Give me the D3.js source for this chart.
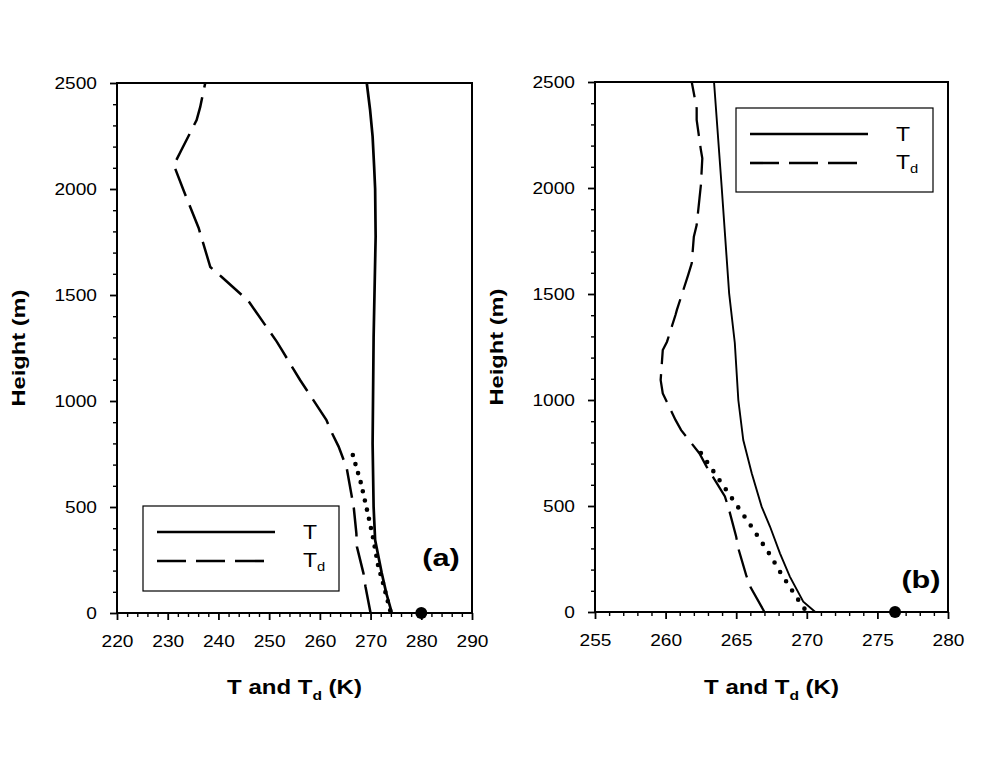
<!DOCTYPE html>
<html><head><meta charset="utf-8">
<script src="https://cdn.jsdelivr.net/npm/d3@7"></script>
<style>body{margin:0;background:#fff}svg{display:block}</style>
</head><body>
<svg id="chart" width="992" height="760"></svg>
<script>
// ---------------- data ----------------
// Panel (a)
const aT_height  = [0, 94, 189, 344, 500, 800, 1300, 1776, 2000, 2107, 2248, 2374, 2500];
const aT_value   = [274.2, 273.1, 272.2, 270.9, 270.6, 270.4, 270.6, 271.0, 270.9, 270.7, 270.4, 269.9, 269.25];
const aTd_height = [0, 124, 187, 313, 376, 494, 549, 683, 785, 863, 910, 1052, 1099, 1241, 1280, 1414, 1472, 1586, 1632, 1816, 1995, 2113, 2184, 2325, 2386, 2500];
const aTd_value  = [270.0, 269.0, 268.6, 267.3, 267.2, 266.7, 266.3, 265.3, 263.7, 262.1, 261.3, 257.4, 256.1, 252.5, 251.5, 247.6, 245.9, 240.6, 238.4, 236.1, 233.1, 231.2, 232.7, 235.7, 236.4, 237.4];
const aDot_height = [0, 137, 222, 354, 486, 613, 745];
const aDot_value  = [274.0, 272.5, 271.5, 270.5, 269.3, 268.1, 266.5];
const aSurface = [280, 0];
const aXDomain = [220, 290];
const aXTicks = [220, 230, 240, 250, 260, 270, 280, 290];

// Panel (b)
const bT_height  = [0, 49, 167, 277, 402, 497, 654, 811, 1000, 1270, 1503, 2006, 2500];
const bT_value   = [270.6, 269.75, 268.8, 268.1, 267.4, 266.8, 266.1, 265.5, 265.15, 264.9, 264.5, 263.97, 263.43];
const bTd_height = [0, 119, 175, 300, 355, 481, 545, 686, 748, 858, 906, 1031, 1094, 1236, 1275, 1401, 1425, 1590, 1645, 1770, 1825, 1951, 2014, 2140, 2179, 2321, 2376, 2500];
const bTd_value  = [267.0, 266.0, 265.7, 265.15, 265.0, 264.5, 264.2, 262.9, 262.4, 261.1, 260.7, 259.8, 259.65, 259.8, 260.1, 260.7, 260.8, 261.6, 261.85, 262.0, 262.2, 262.4, 262.5, 262.6, 262.5, 262.2, 262.2, 261.85];
const bDot_height = [0, 47, 179, 269, 401, 575, 750];
const bDot_value  = [270.0, 269.5, 268.2, 267.4, 266.1, 264.3, 262.5];
const bSurface = [276.25, 0];
const bXDomain = [255, 280];
const bXTicks = [255, 260, 265, 270, 275, 280];

const yDomain = [0, 2500];
const yTicks = [0, 500, 1000, 1500, 2000, 2500];
const legendLabels = ["T", "T"];
const legendSub = "d";

// ---------------- drawing ----------------
const FONT = "'Liberation Sans', Arial, Helvetica, sans-serif";
const svg = d3.select("#chart");
svg.append("rect").attr("width", 992).attr("height", 760).attr("fill", "#fff");

const zip = (h, v) => h.map((d, i) => [d, v[i]]);

const panels = [
  { left: 117, right: 472, top: 83, bottom: 613, xDomain: aXDomain, xTicks: aXTicks, xMinorStep: 2,
    T: zip(aT_height, aT_value), Td: zip(aTd_height, aTd_value), dots: zip(aDot_height, aDot_value),
    surf: aSurface, tW: 2.7, tdW: 2.5, dotGap: 9.4,
    label: "(a)", labelX: 441, labelY: 566,
    legend: { x: 143, y: 506, w: 196, h: 85 } },
  { left: 595, right: 948, top: 82, bottom: 612, xDomain: bXDomain, xTicks: bXTicks, xMinorStep: 1,
    T: zip(bT_height, bT_value), Td: zip(bTd_height, bTd_value), dots: zip(bDot_height, bDot_value),
    surf: bSurface, tW: 1.9, tdW: 2.3, dotGap: 11,
    label: "(b)", labelX: 921, labelY: 588,
    legend: { x: 736, y: 108, w: 197, h: 84 } }
];

panels.forEach(p => {
  const g = svg.append("g");
  const x = d3.scaleLinear().domain(p.xDomain).range([p.left, p.right]);
  const y = d3.scaleLinear().domain(yDomain).range([p.bottom, p.top]);

  // minor ticks
  const xMinor = d3.range(p.xDomain[0], p.xDomain[1] + 1e-9, p.xMinorStep).filter(v => !p.xTicks.includes(v));
  const yMinor = d3.range(0, 2501, 100).filter(v => !yTicks.includes(v));
  const mx = g.append("g").attr("transform", `translate(0,${p.bottom})`)
    .call(d3.axisBottom(x).tickValues(xMinor).tickSize(4).tickFormat(""));
  const my = g.append("g").attr("transform", `translate(${p.left},0)`)
    .call(d3.axisLeft(y).tickValues(yMinor).tickSize(4).tickFormat(""));
  [mx, my].forEach(a => { a.select(".domain").remove(); a.selectAll("line").attr("stroke", "#000").attr("stroke-width", 1.4); });

  // major ticks + labels
  const ax = g.append("g").attr("transform", `translate(0,${p.bottom})`)
    .call(d3.axisBottom(x).tickValues(p.xTicks).tickSize(7).tickFormat(d3.format("d")));
  const ay = g.append("g").attr("transform", `translate(${p.left},0)`)
    .call(d3.axisLeft(y).tickValues(yTicks).tickSize(7).tickFormat(d3.format("d")));
  [ax, ay].forEach(a => {
    a.select(".domain").remove();
    a.selectAll("line").attr("stroke", "#000").attr("stroke-width", 1.8);
    a.selectAll("text").attr("font-family", FONT).attr("font-size", 16.5).attr("fill", "#000");
  });
  ax.selectAll("text").attr("y", 0).attr("dy", 0).attr("transform", "translate(0,34) scale(1.16,1)");
  ay.selectAll("text").attr("x", 0).attr("dy", "0.36em").attr("transform", "translate(-20,0) scale(1.16,1)");

  // frame
  g.append("rect").attr("x", p.left).attr("y", p.top)
    .attr("width", p.right - p.left).attr("height", p.bottom - p.top)
    .attr("fill", "none").attr("stroke", "#000").attr("stroke-width", 2);

  const line = d3.line().x(d => x(d[1])).y(d => y(d[0]));

  g.append("path").datum(p.Td).attr("d", line).attr("fill", "none")
    .attr("stroke", "#000").attr("stroke-width", p.tdW).attr("stroke-dasharray", "29,10");
  g.append("path").datum(p.dots.slice().reverse()).attr("d", line).attr("fill", "none")
    .attr("stroke", "#000").attr("stroke-width", 4.6).attr("stroke-linecap", "round")
    .attr("stroke-dasharray", `0,${p.dotGap}`);
  g.append("path").datum(p.T).attr("d", line).attr("fill", "none")
    .attr("stroke", "#000").attr("stroke-width", p.tW);

  g.append("circle").attr("cx", x(p.surf[0])).attr("cy", y(p.surf[1])).attr("r", 6).attr("fill", "#000");

  // panel label
  g.append("text").attr("font-family", FONT).attr("font-weight", "bold").attr("font-size", 24)
    .attr("text-anchor", "middle")
    .attr("transform", `translate(${p.labelX},${p.labelY}) scale(1.28,1)`).text(p.label);

  // axis titles
  const xt = g.append("text").attr("font-family", FONT).attr("font-weight", "bold").attr("font-size", 20)
    .attr("text-anchor", "middle")
    .attr("transform", `translate(${(p.left + p.right) / 2},694) scale(1.2,1)`);
  xt.append("tspan").text("T and T");
  xt.append("tspan").attr("font-size", 13).attr("dy", 6).text("d");
  xt.append("tspan").attr("dy", -6).text(" (K)");

  g.append("text").attr("font-family", FONT).attr("font-weight", "bold").attr("font-size", 18.5)
    .attr("text-anchor", "middle")
    .attr("transform", `translate(${p.left - 92},${(p.top + p.bottom) / 2}) rotate(-90) scale(1.28,1)`)
    .text("Height (m)");

  // legend
  const L = p.legend;
  const lg = g.append("g");
  lg.append("rect").attr("x", L.x).attr("y", L.y).attr("width", L.w).attr("height", L.h)
    .attr("fill", "#fff").attr("stroke", "#000").attr("stroke-width", 1.2);
  const r1 = L.y + 26, r2 = L.y + 55;
  lg.append("line").attr("x1", L.x + 14).attr("x2", L.x + 132).attr("y1", r1).attr("y2", r1)
    .attr("stroke", "#000").attr("stroke-width", 2.6);
  lg.append("line").attr("x1", L.x + 14).attr("x2", L.x + 121).attr("y1", r2).attr("y2", r2)
    .attr("stroke", "#000").attr("stroke-width", 2.6).attr("stroke-dasharray", "29,10");
  lg.append("text").attr("font-family", FONT).attr("font-size", 19.5)
    .attr("transform", `translate(${L.x + 160},${r1 + 7}) scale(1.18,1)`).text(legendLabels[0]);
  const t2 = lg.append("text").attr("font-family", FONT).attr("font-size", 19.5)
    .attr("transform", `translate(${L.x + 160},${r2 + 6}) scale(1.18,1)`);
  t2.append("tspan").text(legendLabels[1]);
  t2.append("tspan").attr("font-size", 12.5).attr("dy", 4).text(legendSub);
});
</script>
</body></html>
